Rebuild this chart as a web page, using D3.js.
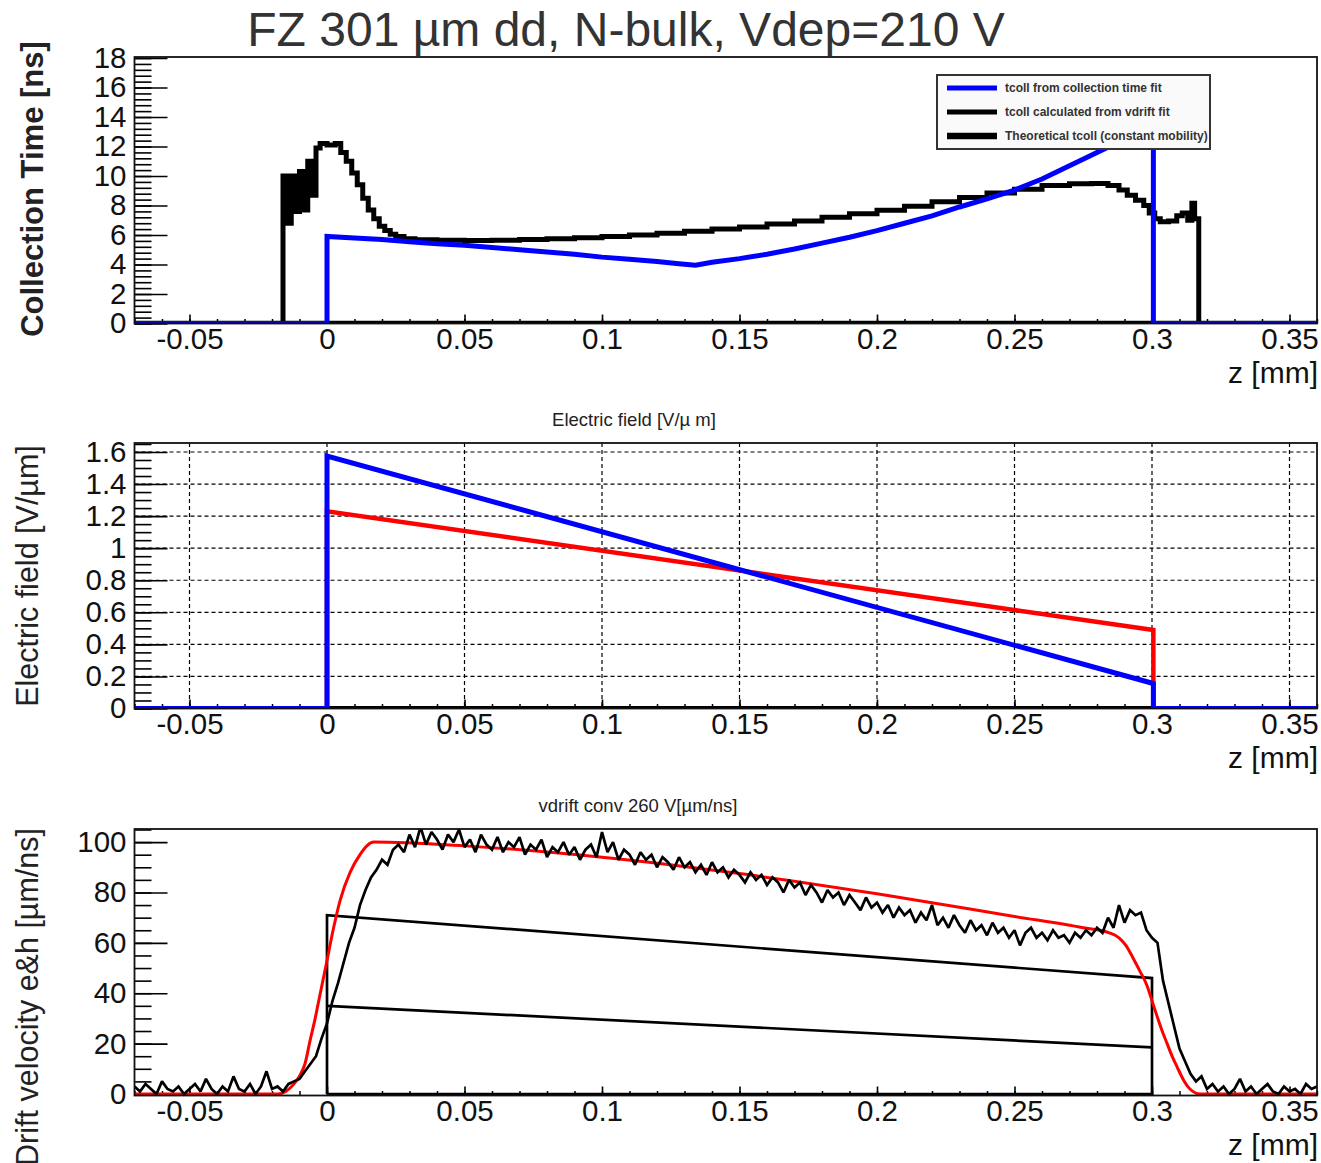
<!DOCTYPE html>
<html><head><meta charset="utf-8">
<script src="https://cdn.jsdelivr.net/npm/d3@7"></script>
<style>
body{margin:0;background:#fff}
svg{display:block}
text{font-family:"Liberation Sans",Arial,Helvetica,sans-serif}
</style>
</head><body>
<svg id="c" width="1321" height="1163"></svg>
<script>
// ---------------- DATA ----------------
const chartTitle = "FZ 301 µm dd, N-bulk, Vdep=210 V";
const xTicks = [-0.05, 0, 0.05, 0.1, 0.15, 0.2, 0.25, 0.3, 0.35];
const xTickLabels = ["-0.05", "0", "0.05", "0.1", "0.15", "0.2", "0.25", "0.3", "0.35"];
const xTitle = "z [mm]";

// Panel 1 : collection time [ns]
const p1YTicks = [0, 2, 4, 6, 8, 10, 12, 14, 16, 18];
const p1YTickLabels = ["0", "2", "4", "6", "8", "10", "12", "14", "16", "18"];
const p1YTitle = "Collection Time [ns]";
const legendLabels = ["tcoll from collection time fit", "tcoll calculated from vdrift fit", "Theoretical tcoll (constant mobility)"];
const tcollTheory = [[-0.07, 0], [0.36, 0]];
const tcollVdrift = [
  [-0.07, 0], [-0.016, 10.0], [-0.0145, 6.8], [-0.013, 10.0], [-0.0115, 7.6], [-0.010, 10.3],
  [-0.0085, 7.7], [-0.007, 11.0], [-0.0055, 8.7], [-0.004, 11.9], [-0.0025, 12.2], [0.000, 12.1],
  [0.003, 12.2], [0.005, 11.6], [0.007, 11.0], [0.009, 10.2], [0.011, 9.4], [0.013, 8.5],
  [0.015, 7.7], [0.017, 7.1], [0.019, 6.6], [0.021, 6.3], [0.023, 6.05], [0.025, 5.9],
  [0.028, 5.75], [0.032, 5.68], [0.040, 5.64], [0.050, 5.62], [0.060, 5.65], [0.070, 5.7],
  [0.080, 5.75], [0.090, 5.82], [0.100, 5.9], [0.110, 6.0], [0.120, 6.12], [0.130, 6.25],
  [0.140, 6.4], [0.150, 6.55], [0.160, 6.75], [0.170, 6.95], [0.180, 7.2], [0.190, 7.45],
  [0.200, 7.68], [0.210, 7.95], [0.220, 8.25], [0.230, 8.55], [0.240, 8.85], [0.250, 9.1],
  [0.260, 9.35], [0.270, 9.48], [0.278, 9.5], [0.284, 9.35], [0.288, 9.05], [0.291, 8.7],
  [0.294, 8.35], [0.297, 8.0], [0.299, 7.5], [0.301, 7.1], [0.303, 6.9], [0.306, 6.95],
  [0.309, 7.3], [0.311, 7.5], [0.313, 7.0], [0.3145, 8.15], [0.3155, 7.1], [0.317, 0], [0.36, 0]
];
const tcollFit = [
  [-0.07, 0], [0.0, 0], [0.0, 5.9], [0.01, 5.8], [0.02, 5.7], [0.03, 5.55], [0.04, 5.4], [0.05, 5.3],
  [0.06, 5.15], [0.07, 5.0], [0.08, 4.85], [0.09, 4.7], [0.10, 4.5], [0.11, 4.35], [0.12, 4.2],
  [0.128, 4.05], [0.134, 3.95], [0.14, 4.15], [0.15, 4.4], [0.16, 4.7], [0.17, 5.05], [0.18, 5.45],
  [0.19, 5.85], [0.20, 6.3], [0.21, 6.8], [0.22, 7.3], [0.23, 7.9], [0.24, 8.45], [0.25, 9.05],
  [0.26, 9.8], [0.27, 10.7], [0.28, 11.6], [0.29, 12.5], [0.3005, 13.4], [0.3005, 0], [0.36, 0]
];

// Panel 2 : electric field [V/um]
const p2YTicks = [0, 0.2, 0.4, 0.6, 0.8, 1, 1.2, 1.4, 1.6];
const p2YTickLabels = ["0", "0.2", "0.4", "0.6", "0.8", "1", "1.2", "1.4", "1.6"];
const p2YTitle = "Electric field [V/µm]";
const p2Subtitle = "Electric field [V/µ m]";
const eFieldRed = [[-0.07, 0], [0, 0], [0, 1.23], [0.3005, 0.49], [0.3005, 0], [0.36, 0]];
const eFieldBlue = [[-0.07, 0], [0, 0], [0, 1.575], [0.3005, 0.156], [0.3005, 0], [0.36, 0]];

// Panel 3 : drift velocity [um/ns]
const p3YTicks = [0, 20, 40, 60, 80, 100];
const p3YTickLabels = ["0", "20", "40", "60", "80", "100"];
const p3YTitle = "Drift velocity e&h [µm/ns]";
const p3Subtitle = "vdrift conv 260 V[µm/ns]";
const vdriftTrapHigh = [[0, 0], [0, 71], [0.3, 46], [0.3, 0], [0, 0]];
const vdriftTrapLow = [[0, 35], [0.3, 18.5]];
const vdriftFit = [
  [-0.07, 0], [-0.018, 0], [-0.015, 1], [-0.012, 4], [-0.0098, 7.5], [-0.008, 12], [-0.0062, 21],
  [-0.0045, 29], [-0.003, 37], [-0.0015, 45], [0, 53], [0.0024, 66], [0.0048, 77], [0.0084, 88],
  [0.012, 95], [0.0145, 98.5], [0.017, 100], [0.05, 98.5], [0.1, 94], [0.15, 87.5], [0.2, 79.5],
  [0.25, 70.5], [0.275, 66], [0.2845, 64], [0.288, 62], [0.2905, 59], [0.2931, 54], [0.2955, 49],
  [0.2982, 43], [0.3, 37], [0.3018, 31], [0.3037, 25], [0.3055, 20], [0.3073, 15], [0.3091, 10.8],
  [0.3115, 5.5], [0.3138, 2], [0.3175, 0], [0.36, 0]
];
// measured drift velocity, bins of 0.002 mm starting at z = -0.070
const vdriftMeasStart = -0.07;
const vdriftMeasStep = 0.002;
const vdriftMeas = [
  3, 1, 4, 2, 0, 5, 2, 1, 3, 0,
  2, 4, 1, 6, 2, 0, 3, 1, 7, 2,
  1, 4, 0, 3, 9, 2, 3, 1, 4, 5,
  6, 9, 12, 15, 22, 28, 37, 44, 52, 60,
  66, 75, 81, 86, 89, 93, 91, 97, 99, 96,
  103, 98, 106, 99, 104, 101, 97, 103, 100, 105,
  98, 101, 96, 103, 99, 97, 102, 96, 100, 98,
  102, 95, 99, 97, 101, 94, 98, 96, 100, 95,
  98, 93, 97, 99, 94, 104, 96, 100, 93, 97,
  95, 91, 96, 93, 95, 90, 94, 92, 89, 94,
  90, 92, 88, 91, 87, 92, 88, 90, 86, 89,
  87, 84, 88, 85, 87, 83, 86, 84, 80, 85,
  82, 84, 79, 83, 80, 76, 81, 78, 80, 75,
  79, 76, 73, 78, 74, 76, 72, 75, 70, 74,
  71, 73, 68, 72, 69, 75, 67, 70, 66, 71,
  67, 64, 69, 65, 67, 63, 68, 64, 66, 62,
  65, 59, 64, 66, 62, 64, 61, 65, 62, 63,
  60, 64, 62, 65, 63, 66, 64, 70, 66, 75,
  68, 73, 71, 72, 65, 62, 60, 45, 36, 27,
  18, 13, 8, 5, 7, 2, 4, 1, 3, 0,
  2, 6, 1, 3, 0, 2, 4, 1, 0, 3,
  1, 2, 0, 4, 2, 3
];

// ---------------- LAYOUT ----------------
const W = 1321, H = 1163;
const frameL = 134.5, frameR = 1317;
const svg = d3.select("#c");
svg.append("rect").attr("width", W).attr("height", H).attr("fill", "#fff");

const x = d3.scaleLinear().domain([-0.07, 0.36]).range([frameL, frameR]);
const xMinor = d3.range(-7, 37).map(k => k / 100);

const panels = [
  { top: 57, bottom: 323.5, y: d3.scaleLinear().domain([0, 18.07]).range([323.5, 57]),
    ticks: p1YTicks, labels: p1YTickLabels, minor: d3.range(0, 46).map(k => k * 0.4),
    title: p1YTitle, titleBold: true, titleX: 43, titleY: 189, titleAnchor: "middle" },
  { top: 443, bottom: 708.5, y: d3.scaleLinear().domain([0, 1.656]).range([708.5, 443]),
    ticks: p2YTicks, labels: p2YTickLabels, minor: d3.range(0, 34).map(k => k * 0.05),
    title: p2YTitle, titleBold: false, titleX: 38, titleY: 576, titleAnchor: "middle", grid: true },
  { top: 829, bottom: 1095.5, y: d3.scaleLinear().domain([-0.6, 105.2]).range([1095.5, 829]),
    ticks: p3YTicks, labels: p3YTickLabels, minor: d3.range(0, 22).map(k => k * 5),
    title: p3YTitle, titleBold: false, titleX: 38, titleY: 828, titleAnchor: "end" }
];

const tickFont = 29.5;

panels.forEach((p, pi) => {
  const g = svg.append("g");
  const y = p.y;
  const clipId = "clip" + pi;
  svg.append("clipPath").attr("id", clipId).append("rect")
    .attr("x", frameL).attr("y", p.top).attr("width", frameR - frameL).attr("height", p.bottom - p.top);

  if (p.grid) {
    const gg = g.append("g").attr("stroke", "#000").attr("stroke-width", 1.2).attr("stroke-dasharray", "4,3");
    xTicks.forEach(v => gg.append("line").attr("x1", x(v)).attr("x2", x(v)).attr("y1", p.top).attr("y2", p.bottom));
    p.ticks.filter(v => v > 0).forEach(v => gg.append("line").attr("x1", frameL).attr("x2", frameR).attr("y1", y(v)).attr("y2", y(v)));
  }

  const yMinAx = d3.axisLeft(y).tickValues(p.minor.filter(v => v <= y.domain()[1])).tickSize(-17).tickFormat("");
  const gy1 = g.append("g").attr("transform", `translate(${frameL},0)`).call(yMinAx);
  gy1.select(".domain").remove();
  gy1.selectAll("line").attr("stroke", "#000").attr("stroke-width", 1.6);
  const yAx = d3.axisLeft(y).tickValues(p.ticks).tickSize(-33).tickPadding(8)
    .tickFormat((d, i) => p.labels[i]);
  const gy = g.append("g").attr("transform", `translate(${frameL},0)`).call(yAx);
  gy.select(".domain").remove();
  gy.selectAll("line").attr("stroke", "#000").attr("stroke-width", 1.6);
  gy.selectAll("text").attr("font-size", tickFont).attr("fill", "#111")
    .style("font-family", '"Liberation Sans", Arial, sans-serif');

  const xMinAx = d3.axisBottom(x).tickValues(xMinor).tickSize(-4.5).tickFormat("");
  const gx1 = g.append("g").attr("transform", `translate(0,${p.bottom})`).call(xMinAx);
  gx1.select(".domain").remove();
  gx1.selectAll("line").attr("stroke", "#000").attr("stroke-width", 1.5);
  const xAx = d3.axisBottom(x).tickValues(xTicks).tickSize(-9).tickPadding(5)
    .tickFormat((d, i) => xTickLabels[i]);
  const gx = g.append("g").attr("transform", `translate(0,${p.bottom})`).call(xAx);
  gx.select(".domain").remove();
  gx.selectAll("line").attr("stroke", "#000").attr("stroke-width", 1.6);
  gx.selectAll("text").attr("font-size", tickFont).attr("fill", "#111")
    .style("font-family", '"Liberation Sans", Arial, sans-serif');

  g.append("text").attr("x", 1318).attr("y", p.bottom + 59).attr("text-anchor", "end")
    .attr("font-size", 30).attr("fill", "#111").text(xTitle);

  g.append("text").attr("transform", `translate(${p.titleX},${p.titleY}) rotate(-90)`)
    .attr("text-anchor", p.titleAnchor).attr("font-size", p.titleBold ? 31 : 30.5)
    .attr("font-weight", p.titleBold ? "bold" : "normal").attr("fill", "#222").text(p.title);

  p.g = g; p.clip = clipId;
});

function drawSeries(p, data, color, width, curve) {
  const line = d3.line().x(d => x(d[0])).y(d => p.y(d[1])).curve(curve || d3.curveLinear);
  p.g.append("path").attr("clip-path", `url(#${p.clip})`).datum(data)
    .attr("d", line).attr("fill", "none").attr("stroke", color).attr("stroke-width", width)
    .attr("stroke-linejoin", "miter").attr("stroke-miterlimit", 2);
}

const P1 = panels[0];
drawSeries(P1, tcollTheory, "#000", 5.5);
drawSeries(P1, tcollVdrift, "#000", 5, d3.curveStepAfter);
drawSeries(P1, tcollFit, "#0000ff", 5);

const P2 = panels[1];
drawSeries(P2, [[0, 0], [0.3005, 0]], "#000", 5);
drawSeries(P2, eFieldRed, "#ff0000", 4.5);
drawSeries(P2, eFieldBlue, "#0000ff", 5);

const P3 = panels[2];
drawSeries(P3, vdriftTrapHigh, "#000", 2.7);
drawSeries(P3, vdriftTrapLow, "#000", 2.7);
drawSeries(P3, vdriftFit, "#ff0000", 3, d3.curveMonotoneX);
drawSeries(P3, vdriftMeas.map((v, i) => [vdriftMeasStart + i * vdriftMeasStep, v]), "#000", 2.7);

panels.forEach(p => {
  svg.append("rect").attr("x", frameL).attr("y", p.top).attr("width", frameR - frameL)
    .attr("height", p.bottom - p.top).attr("fill", "none").attr("stroke", "#111").attr("stroke-width", 1.8);
});

// legend
const leg = svg.append("g");
svg.append("clipPath").attr("id", "legclip").append("rect")
  .attr("x", 937).attr("y", 75).attr("width", 273).attr("height", 74);
leg.append("rect").attr("x", 937).attr("y", 75).attr("width", 273).attr("height", 74)
  .attr("fill", "#fafafa").attr("stroke", "#333").attr("stroke-width", 2);
const legColors = ["#0000ff", "#000", "#000"];
const legWidths = [5, 5, 6.5];
legendLabels.forEach((t, i) => {
  const yy = 88 + i * 24;
  leg.append("line").attr("x1", 947).attr("x2", 997).attr("y1", yy).attr("y2", yy)
    .attr("stroke", legColors[i]).attr("stroke-width", legWidths[i]);
  leg.append("text").attr("clip-path", "url(#legclip)").attr("x", 1005).attr("y", yy + 4)
    .attr("font-size", 12).attr("font-weight", "bold").attr("fill", "#333").text(t);
});

svg.append("text").attr("x", 626).attr("y", 46).attr("text-anchor", "middle")
  .attr("font-size", 48).attr("fill", "#333").text(chartTitle);
svg.append("text").attr("x", 634).attr("y", 426).attr("text-anchor", "middle")
  .attr("font-size", 18.5).attr("fill", "#222").text(p2Subtitle);
svg.append("text").attr("x", 638).attr("y", 812).attr("text-anchor", "middle")
  .attr("font-size", 18.5).attr("fill", "#222").text(p3Subtitle);
</script>
</body></html>
